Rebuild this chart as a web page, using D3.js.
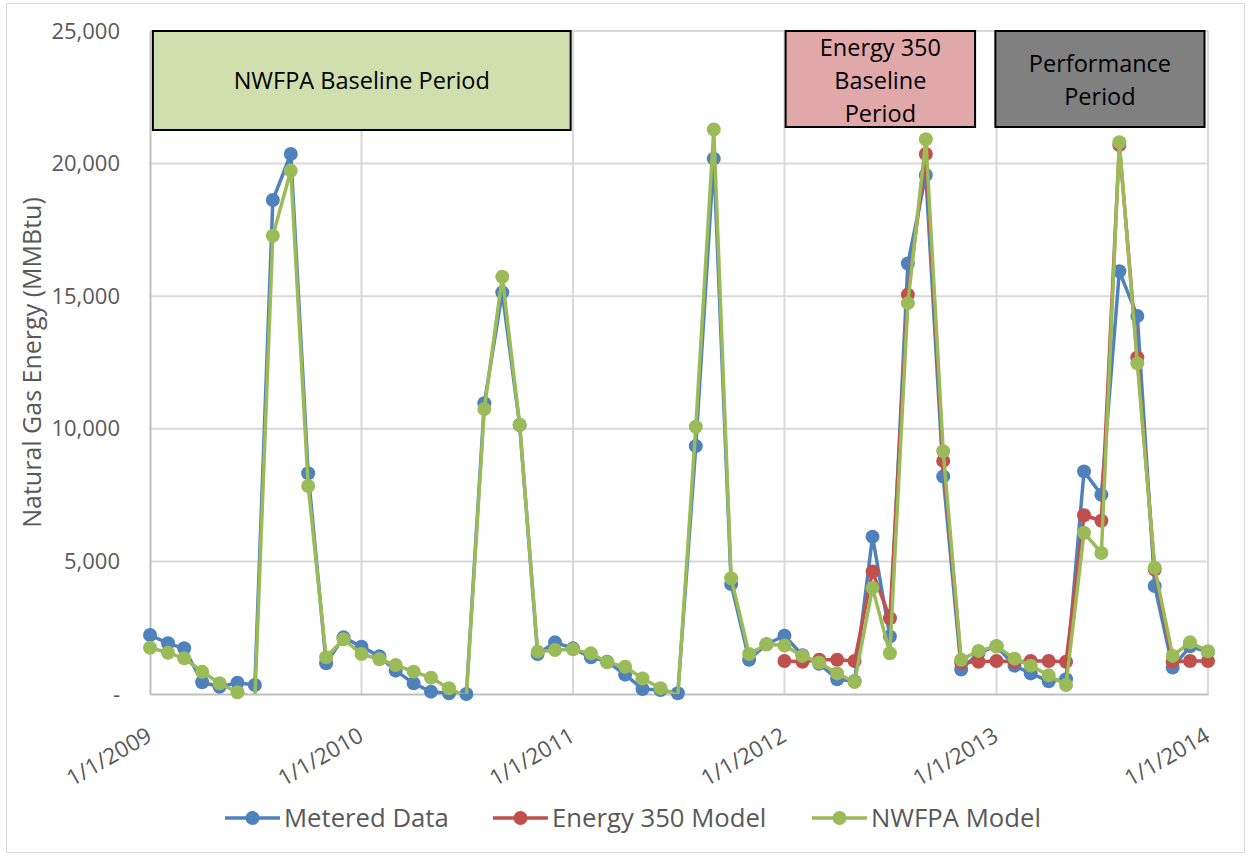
<!DOCTYPE html>
<html>
<head>
<meta charset="utf-8">
<script src="https://cdn.jsdelivr.net/npm/d3@7"></script>
<style>
  html, body { margin: 0; padding: 0; background: #fff; }
  svg { display: block; }
  text { font-family: "Open Sans", "Liberation Sans", sans-serif; }
</style>
</head>
<body>
<svg id="chart" width="1250" height="857"></svg>
<script>
// ---------- DATA ----------
const startMonth = "2009-01-01";
const monthCount = 61;
const yTicks = [0, 5000, 10000, 15000, 20000, 25000];
const xTickYears = ["2009-01-01", "2010-01-01", "2011-01-01", "2012-01-01", "2013-01-01", "2014-01-01"];
const seriesNames = ["Metered Data", "Energy 350 Model", "NWFPA Model"];
const seriesColors = ["#4f81bd", "#c0504d", "#9bbb59"];

const metered = [
  2225, 1911, 1723, 441, 276, 426, 339, 18627, 20362, 8322, 1157, 2137,
  1785, 1420, 880, 402, 88, 25, 0, 10961, 15146, 10143, 1508, 1948,
  1722, 1383, 1219, 732, 190, 150, 30, 9347, 20187, 4146, 1289, 1875,
  2198, 1465, 1143, 557, 483, 5933, 2168, 16232, 19572, 8204, 923, 1550,
  1802, 1069, 776, 483, 557, 8394, 7515, 15939, 14254, 4073, 996, 1800,
  1580
];
const energy350 = [
  null, null, null, null, null, null, null, null, null, null, null, null,
  null, null, null, null, null, null, null, null, null, null, null, null,
  null, null, null, null, null, null, null, null, null, null, null, null,
  1245, 1216, 1290, 1290, 1245, 4615, 2857, 15060, 20364, 8790, 1187, 1216,
  1245, 1216, 1245, 1245, 1216, 6739, 6534, 20700, 12687, 4688, 1216, 1245,
  1245
];
const nwfpa = [
  1746, 1558, 1346, 841, 403, 64, -150, 17282, 19733, 7843, 1383, 2062,
  1508, 1310, 1094, 842, 616, 214, -100, 10747, 15736, 10150, 1596, 1659,
  1684, 1533, 1194, 1025, 586, 220, -50, 10079, 21286, 4366, 1509, 1875,
  1831, 1436, 1187, 776, 454, 4000, 1538, 14738, 20920, 9156, 1289, 1626,
  1802, 1333, 1069, 703, 337, 6080, 5318, 20803, 12467, 4761, 1436, 1948,
  1611
];
const periodLabels = [["NWFPA Baseline Period"], ["Energy 350", "Baseline", "Period"], ["Performance", "Period"]];
const periodStarts = ["2009-01-06", "2012-01-03", "2012-12-30"];
const periodEnds = ["2010-12-28", "2012-11-25", "2013-12-26"];
const periodFills = ["#d0dfae", "#e0a8a8", "#808080"];

// ---------- LAYOUT ----------
const svg = d3.select("#chart");
const L = 150, R = 1208, T = 31, B = 694;
const parse = d3.utcParse("%Y-%m-%d");
const months = d3.utcMonth.range(parse(startMonth), d3.utcMonth.offset(parse(startMonth), monthCount));

const x = d3.scaleUtc().domain([parse(xTickYears[0]), parse(xTickYears[xTickYears.length - 1])]).range([L, R]);
const y = d3.scaleLinear().domain([0, 25000]).range([B, T]);

// chart border
svg.append("rect").attr("x", 6.5).attr("y", 3.5).attr("width", 1238).attr("height", 849)
  .attr("fill", "#fff").attr("stroke", "#d9d9d9").attr("stroke-width", 1);

// gridlines
const grid = svg.append("g");
grid.selectAll("line.h").data(yTicks.filter(d => d > 0)).join("line")
  .attr("x1", L).attr("x2", R).attr("y1", d => y(d)).attr("y2", d => y(d))
  .attr("stroke", "#d9d9d9").attr("stroke-width", 2);
grid.selectAll("line.v").data(xTickYears.slice(1).map(parse)).join("line")
  .attr("x1", d => x(d)).attr("x2", d => x(d)).attr("y1", T).attr("y2", B)
  .attr("stroke", "#d9d9d9").attr("stroke-width", 2);

// y axis
const yAxis = svg.append("g").attr("transform", `translate(${L},0)`)
  .call(d3.axisLeft(y).tickValues(yTicks).tickSize(0).tickPadding(30)
    .tickFormat(d => d === 0 ? "-" : d3.format(",")(d)));
yAxis.select(".domain").attr("stroke", "#bfbfbf").attr("stroke-width", 2);
yAxis.selectAll("text").attr("fill", "#595959").style("font-size", "22px");

// x axis
const xAxis = svg.append("g").attr("transform", `translate(0,${B})`)
  .call(d3.axisBottom(x).tickValues(xTickYears.map(parse)).tickSize(0)
    .tickFormat(d3.utcFormat("%-m/%-d/%Y")));
xAxis.select(".domain").attr("stroke", "#bfbfbf").attr("stroke-width", 2);
xAxis.selectAll("text")
  .attr("fill", "#595959").style("font-size", "22.5px")
  .attr("text-anchor", "end")
  .attr("dy", null).attr("y", 0)
  .attr("transform", "translate(3,46) rotate(-30)");

// y title
svg.append("text")
  .attr("transform", `translate(41,${(T + B) / 2}) rotate(-90)`)
  .attr("text-anchor", "middle").attr("fill", "#595959")
  .style("font-size", "25px").text("Natural Gas Energy (MMBtu)");

// period boxes
const boxes = svg.append("g");
periodLabels.forEach((lab, i) => {
  const x0 = x(parse(periodStarts[i]));
  const x1 = x(parse(periodEnds[i]));
  const h = i === 0 ? 99 : 96;
  boxes.append("rect").attr("x", x0).attr("y", T).attr("width", x1 - x0).attr("height", h)
    .attr("fill", periodFills[i]).attr("stroke", "#000").attr("stroke-width", 2);
  const cy = T + 49.5;
  const lh = 33;
  lab.forEach((t, j) => {
    boxes.append("text").attr("x", (x0 + x1) / 2)
      .attr("y", cy + (j - (lab.length - 1) / 2) * lh)
      .attr("dy", "0.35em").attr("text-anchor", "middle")
      .attr("fill", "#000").style("font-size", "23.5px").text(t);
  });
});

// series
const allSeries = [metered, energy350, nwfpa];
svg.append("defs").append("clipPath").attr("id", "plotclip")
  .append("rect").attr("x", L - 10).attr("y", T - 10).attr("width", R - L + 20).attr("height", B - T + 10);

const line = d3.line()
  .defined(d => d.v !== null)
  .x(d => x(d.date)).y(d => y(d.v));

allSeries.forEach((vals, si) => {
  const pts = vals.map((v, i) => ({ date: months[i], v }));
  const g = svg.append("g");
  g.append("path").datum(pts).attr("d", line).attr("clip-path", "url(#plotclip)")
    .attr("fill", "none").attr("stroke", seriesColors[si]).attr("stroke-width", 3.5)
    .attr("stroke-linejoin", "round");
  g.selectAll("circle").data(pts.filter(d => d.v !== null && d.v >= 0)).join("circle")
    .attr("cx", d => x(d.date)).attr("cy", d => y(d.v)).attr("r", 7)
    .attr("fill", seriesColors[si]);
});

// legend
const legendX = [225, 493, 812];
const leg = svg.append("g");
seriesNames.forEach((n, i) => {
  const lx = legendX[i], ly = 818;
  leg.append("line").attr("x1", lx).attr("x2", lx + 55).attr("y1", ly).attr("y2", ly)
    .attr("stroke", seriesColors[i]).attr("stroke-width", 3.5);
  leg.append("circle").attr("cx", lx + 27.5).attr("cy", ly).attr("r", 7).attr("fill", seriesColors[i]);
  leg.append("text").attr("x", lx + 59).attr("y", ly).attr("dy", "0.35em")
    .attr("fill", "#595959").style("font-size", "25.7px").text(n);
});
</script>
</body>
</html>
